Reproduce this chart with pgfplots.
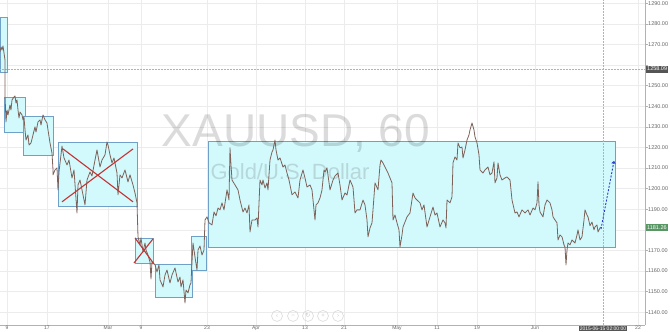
\documentclass[border=0pt]{standalone}
\usepackage{pgfplots}
\pgfplotsset{compat=1.18}
\usepackage{pgfplotstable}
\usepackage{fontspec}
\setmainfont{Liberation Sans}
\newfontfamily\dejavu{DejaVu Sans}
\usetikzlibrary{arrows.meta}

\definecolor{boxfill}{RGB}{210,249,252}
\definecolor{boxedge}{RGB}{110,160,200}
\definecolor{crossred}{RGB}{196,52,52}
\definecolor{pricecol}{RGB}{125,98,90}
\definecolor{arrowblue}{RGB}{40,60,200}
\definecolor{gridcol}{RGB}{236,236,236}
\definecolor{lastgreen}{RGB}{88,150,100}
\definecolor{tagdark}{RGB}{85,85,85}

% XAUUSD hourly closing path (x = bar position, p = price)
\pgfplotstableread{
x p
0 1266.4
1 1268.8
2 1267.3
3 1269.3
4 1265.9
5 1262.5
5 1245.5
6 1232.4
7 1238.2
8 1235.8
10 1240.6
11 1238.2
12 1243.1
14 1244.5
15 1245.0
16 1241.6
17 1243.1
18 1238.2
19 1234.3
20 1237.2
22 1235.8
23 1233.4
24 1234.8
25 1228.5
26 1223.6
28 1226.1
29 1221.2
31 1222.2
33 1226.1
35 1230.0
36 1227.5
38 1232.4
40 1233.4
41 1230.9
43 1235.8
45 1233.4
47 1231.9
48 1228.5
50 1222.2
52 1217.3
53 1209.1
53 1206.7
55 1209.1
57 1210.1
58 1199.4
59 1208.1
62 1220.7
64 1214.9
67 1211.5
69 1213.9
72 1205.2
74 1209.1
77 1188.2
78 1201.8
80 1204.2
82 1199.4
85 1192.1
87 1204.2
90 1208.1
92 1206.2
95 1213.9
97 1218.8
100 1210.5
102 1213.9
105 1216.4
107 1222.7
108 1221.2
110 1216.4
112 1212.5
114 1214.9
117 1207.6
118 1197.0
120 1206.7
122 1205.2
125 1209.1
128 1203.3
130 1206.7
133 1201.8
135 1197.9
137 1193.1
138 1176.6
140 1172.7
141 1176.1
143 1169.3
145 1173.6
146 1170.2
148 1167.8
150 1164.4
151 1156.1
152 1164.4
155 1163.0
157 1159.6
159 1163.0
160 1155.7
163 1152.3
165 1158.1
167 1160.5
170 1154.2
172 1158.1
175 1161.5
178 1154.7
180 1157.1
181 1152.3
183 1155.7
185 1144.5
186 1150.8
188 1149.4
190 1153.3
191 1154.2
192 1164.4
193 1173.6
195 1166.8
197 1160.5
198 1170.2
200 1172.2
202 1167.8
204 1170.2
205 1184.8
207 1186.3
209 1183.4
212 1182.4
214 1188.7
216 1186.8
218 1190.6
220 1189.7
222 1193.1
224 1189.7
227 1199.4
229 1194.5
230 1219.8
231 1211.5
232 1204.2
235 1201.8
238 1199.4
240 1194.5
243 1188.7
245 1190.6
247 1188.2
249 1192.1
250 1179.0
252 1184.8
255 1184.8
257 1185.8
258 1181.4
260 1204.2
262 1201.8
263 1204.2
265 1200.3
267 1202.8
268 1199.4
270 1213.9
272 1217.8
273 1218.8
275 1223.6
276 1218.8
278 1213.9
280 1214.9
283 1210.5
285 1211.5
287 1207.6
289 1204.2
292 1197.0
295 1198.4
298 1195.5
300 1204.2
303 1209.1
305 1205.2
307 1200.8
310 1201.8
312 1199.4
315 1184.8
316 1192.1
318 1193.1
320 1195.5
322 1199.4
324 1209.1
325 1208.1
327 1210.1
330 1199.4
333 1204.2
335 1206.2
338 1207.6
340 1201.8
342 1194.5
345 1197.9
347 1196.9
350 1204.2
353 1200.8
355 1188.2
357 1189.7
360 1189.7
363 1194.5
365 1192.1
367 1184.8
368 1176.6
370 1180.9
372 1183.4
373 1189.7
375 1202.8
378 1199.4
380 1211.5
381 1213.9
383 1212.5
385 1210.5
388 1207.6
390 1205.2
392 1202.8
393 1184.8
395 1187.2
397 1183.4
399 1180.0
400 1171.7
402 1177.5
403 1181.4
405 1183.8
407 1186.3
410 1188.2
413 1197.9
415 1195.5
417 1194.5
420 1193.1
422 1189.7
424 1192.1
427 1181.4
430 1186.3
433 1191.1
435 1187.2
437 1188.2
440 1181.4
443 1184.8
445 1183.4
446 1180.9
447 1194.5
450 1193.1
452 1196.0
453 1212.5
455 1215.4
457 1213.9
458 1222.2
460 1219.8
462 1220.2
463 1214.9
465 1218.8
467 1223.6
469 1226.1
470 1228.5
472 1231.9
474 1228.5
475 1225.1
477 1222.2
479 1216.4
480 1209.1
483 1207.6
485 1209.1
488 1210.5
490 1206.7
492 1207.6
494 1213.0
495 1202.8
497 1205.2
498 1212.5
500 1206.7
502 1204.2
505 1205.2
507 1205.7
510 1204.2
512 1194.5
515 1188.2
517 1188.7
519 1186.3
522 1189.7
525 1188.2
528 1189.7
530 1187.2
533 1190.6
535 1189.7
537 1193.1
538 1203.3
539 1192.1
540 1188.7
543 1186.3
545 1192.1
547 1194.5
550 1193.1
552 1189.7
553 1186.3
555 1184.8
557 1183.4
558 1175.1
560 1177.5
562 1176.6
564 1172.7
565 1171.7
566 1163.0
567 1170.2
568 1173.6
570 1172.7
572 1175.1
575 1173.6
577 1177.5
578 1180.0
580 1175.1
582 1176.6
584 1184.8
585 1189.7
587 1187.2
588 1186.3
590 1182.0
592 1183.8
594 1180.0
595 1181.4
597 1182.4
598 1179.0
600 1180.9
601 1181.3
}\pricedata

\tikzset{navbtn/.style={circle, draw=gray!30, line width=0.6pt, minimum size=11pt, inner sep=0pt,
        text=gray!45, font=\fontsize{6}{6}\selectfont}}

\begin{document}
\begin{tikzpicture}
\useasboundingbox (0,0) rectangle (670pt,332pt);
\begin{axis}[
  at={(0pt,7pt)}, anchor=south west,
  scale only axis, width=645pt, height=325pt,
  xmin=0, xmax=645, ymin=1133.8, ymax=1291.6,
  clip=false,
  axis x line*=bottom, axis y line*=right,
  axis line style={draw=gray!60, line width=0.8pt, -},
  xtick={7,47,108,141,207,256,305,344,397,437,477,535,638},
  xticklabels={9,17,Mar,9,23,Apr,13,21,May,11,19,Jun,22},
  ytick={1140,1150,...,1290},
  yticklabels={1140.00,1150.00,1160.00,1170.00,,1190.00,1200.00,1210.00,1220.00,1230.00,1240.00,1250.00,,1270.00,1280.00,1290.00},
  grid=major, major grid style={draw=gridcol, line width=0.5pt},
  major tick length=3pt,
  x tick style={draw=none},
  y tick style={draw=gray!60, line width=0.5pt},
  tick align=outside,
  x tick label style={font=\fontsize{5}{6}\selectfont, text=gray!80!black, inner sep=1pt, yshift=3pt},
  y tick label style={font=\fontsize{5.5}{6}\selectfont, text=gray!80!black, inner sep=1pt, xshift=-1pt},
]
% support and resistance boxes
\addplot[draw=boxedge, line width=0.9pt, fill=boxfill] coordinates {(0,1256.2) (7,1256.2) (7,1282.9) (0,1282.9)} -- cycle;
\addplot[draw=boxedge, line width=0.9pt, fill=boxfill] coordinates {(4,1227.5) (25,1227.5) (25,1244.5) (4,1244.5)} -- cycle;
\addplot[draw=boxedge, line width=0.9pt, fill=boxfill] coordinates {(23,1215.9) (53,1215.9) (53,1235.3) (23,1235.3)} -- cycle;
\addplot[draw=boxedge, line width=0.9pt, fill=boxfill] coordinates {(58,1191.6) (137,1191.6) (137,1222.2) (58,1222.2)} -- cycle;
\addplot[draw=boxedge, line width=0.9pt, fill=boxfill] coordinates {(135,1163.9) (153,1163.9) (153,1175.6) (135,1175.6)} -- cycle;
\addplot[draw=boxedge, line width=0.9pt, fill=boxfill] coordinates {(155,1147.4) (192,1147.4) (192,1163.4) (155,1163.4)} -- cycle;
\addplot[draw=boxedge, line width=0.9pt, fill=boxfill] coordinates {(191,1160.5) (206,1160.5) (206,1176.6) (191,1176.6)} -- cycle;
\addplot[draw=boxedge, line width=0.9pt, fill=boxfill] coordinates {(208,1171.4) (615,1171.4) (615,1222.8) (208,1222.8)} -- cycle;
% symbol watermark
\node[opacity=0.14, font=\fontsize{46}{46}\selectfont, inner sep=0pt]
  at (axis cs:296,1227.0) {XAUUSD, 60};
\node[opacity=0.13, font=\fontsize{22}{22}\selectfont, inner sep=0pt]
  at (axis cs:290,1208.3) {Gold/U.S. Dollar};
% reference lines
\addplot[gray!60, densely dotted, line width=0.5pt] coordinates {(0,1258.09) (645,1258.09)};
\addplot[gray!60, densely dotted, line width=0.5pt] coordinates {(603,1133.8) (603,1291.6)};
% price
\addplot[pricecol, line width=0.8pt, line join=round] table[x=x, y=p] {\pricedata};
% crossed-out ranges
\addplot[crossred, line width=1.1pt] coordinates {(63,1219.3) (133,1193.6)};
\addplot[crossred, line width=1.1pt] coordinates {(62,1193.6) (133,1219.3)};
\addplot[crossred, line width=1.1pt] coordinates {(135,1176.1) (154,1163.4)};
\addplot[crossred, line width=1.1pt] coordinates {(134,1163.9) (153,1175.6)};
% projected move
\addplot[arrowblue, line width=0.9pt, dash pattern=on 2pt off 1.5pt, -{To[length=3pt,width=4pt]}]
  coordinates {(601,1180.4) (614,1213.4)};
% price tags on the scale
\node[fill=tagdark, text=white, font=\fontsize{5.5}{6}\selectfont, inner sep=1pt, anchor=west, minimum height=7pt]
  at (axis cs:646,1258.09) {1258.09};
\node[fill=lastgreen, text=white, font=\fontsize{5.5}{6}\selectfont, inner sep=1pt, anchor=west, minimum height=7pt]
  at (axis cs:646,1181.26) {1181.26};
\node[fill=tagdark, text=white, font=\fontsize{5}{6}\selectfont, inner sep=1pt, anchor=north, yshift=-0.5pt]
  at (axis cs:603,1133.8) {2015-06-15 02:00:00};
% navigation buttons
\node[navbtn] at (axis cs:277,1138.2) {‹};
\node[navbtn] at (axis cs:293,1138.2) {−};
\node[navbtn] at (axis cs:308,1138.2) {\dejavu ↻};
\node[navbtn] at (axis cs:323,1138.2) {+};
\node[navbtn] at (axis cs:338,1138.2) {›};
\end{axis}
\end{tikzpicture}
\end{document}
